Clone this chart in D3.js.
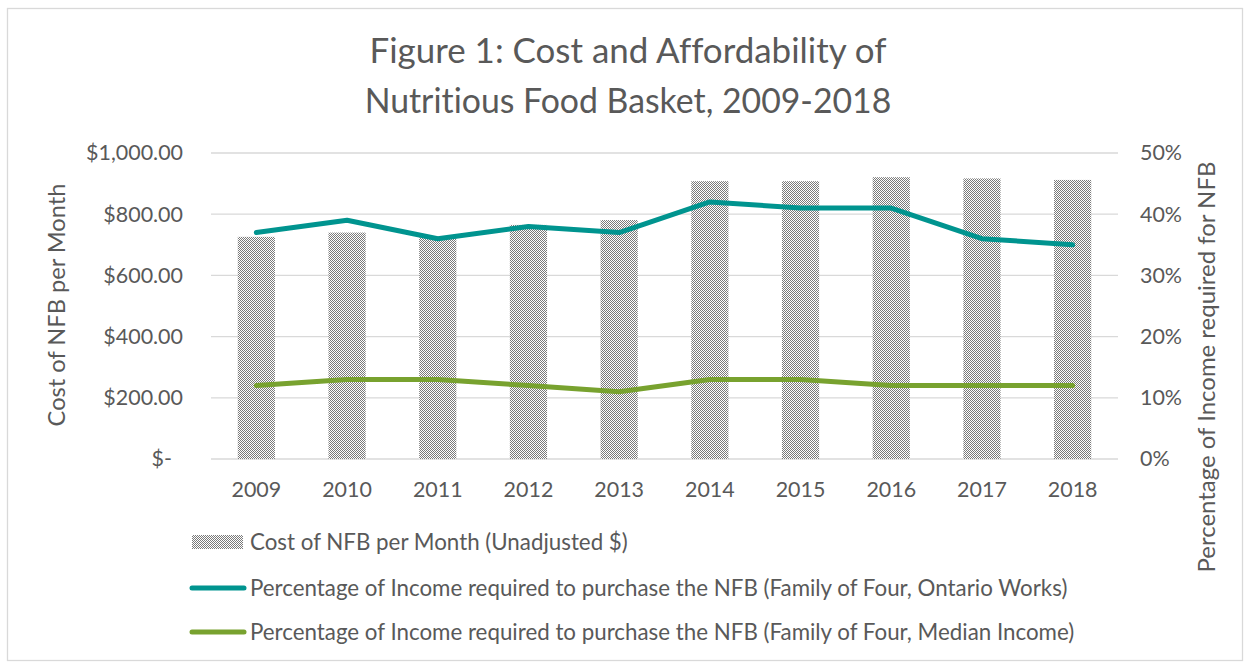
<!DOCTYPE html>
<html>
<head>
<meta charset="utf-8">
<script src="https://cdn.jsdelivr.net/npm/d3@7"></script>
<style>
  body { margin: 0; background: #fff; }
  svg { font-family: Lato, "Open Sans", sans-serif; font-variant-ligatures: none; }
</style>
</head>
<body>
<div id="chart"></div>
<script>
const years = ['2009', '2010', '2011', '2012', '2013', '2014', '2015', '2016', '2017', '2018'];
const costNFB = [726, 740, 724, 765, 781, 908, 908, 921, 917, 912];
const pctOntarioWorks = [37, 39, 36, 38, 37, 42, 41, 41, 36, 35];
const pctMedianIncome = [12, 13, 13, 12, 11, 13, 13, 12, 12, 12];
const costTicks = [0, 200, 400, 600, 800, 1000];
const pctTicks = [0, 10, 20, 30, 40, 50];
const titleLines = ['Figure 1: Cost and Affordability of', 'Nutritious Food Basket, 2009-2018'];
const legendLabels = [
  'Cost of NFB per Month (Unadjusted $)',
  'Percentage of Income required to purchase the NFB (Family of Four, Ontario Works)',
  'Percentage of Income required to purchase the NFB (Family of Four, Median Income)'
];

const width = 1250, height = 664;
const plot = { left: 211, right: 1118, top: 153, bottom: 459 };
const textColor = '#595959';
const teal = '#00948f', green = '#78a22f';

const svg = d3.select('#chart').append('svg')
  .attr('width', width)
  .attr('height', height);

// checkerboard fill for the bars
const defs = svg.append('defs');
const pat = defs.append('pattern')
  .attr('id', 'checker')
  .attr('width', 2).attr('height', 2)
  .attr('patternUnits', 'userSpaceOnUse');
pat.append('rect').attr('width', 2).attr('height', 2).attr('fill', '#fff');
pat.append('rect').attr('width', 1).attr('height', 1).attr('fill', '#7a7a7a');
pat.append('rect').attr('x', 1).attr('y', 1).attr('width', 1).attr('height', 1).attr('fill', '#7a7a7a');

// sets font size so the text is as wide as w
function fit(sel, w) {
  sel.style('font-size', '20px');
  const len = sel.node().getComputedTextLength();
  const size = 20 * w / len;
  sel.style('font-size', size + 'px');
  return size;
}

svg.append('rect')
  .attr('x', 7.5).attr('y', 8.5)
  .attr('width', 1235).attr('height', 652)
  .attr('fill', 'none')
  .attr('stroke', '#d9d9d9')
  .attr('stroke-width', 1.3);

const x = d3.scaleBand().domain(years).range([plot.left, plot.right]).paddingInner(0.59).paddingOuter(0.295);
const yCost = d3.scaleLinear().domain([0, 1000]).range([plot.bottom, plot.top]);
const yPct = d3.scaleLinear().domain([0, 50]).range([plot.bottom, plot.top]);

// gridlines
svg.append('g')
  .selectAll('line')
  .data(costTicks)
  .enter().append('line')
  .attr('x1', plot.left).attr('x2', plot.right)
  .attr('y1', d => yCost(d)).attr('y2', d => yCost(d))
  .attr('stroke', '#d9d9d9')
  .attr('stroke-width', 1.3);

// title
const title = svg.append('g').attr('fill', textColor);
titleLines.forEach((t, i) => {
  const el = title.append('text')
    .attr('x', 628)
    .attr('y', 63 + i * 50)
    .attr('text-anchor', 'middle')
    .text(t);
  fit(el, i === 0 ? 517 : 527);
});

// left axis
const probe = svg.append('text').text('$1,000.00');
const tickSize = fit(probe, 97);
probe.remove();

const leftAxis = svg.append('g')
  .attr('transform', `translate(${plot.left - 28},0)`)
  .call(d3.axisLeft(yCost).tickValues(costTicks).tickSize(0).tickPadding(0)
    .tickFormat(d => d === 0 ? '$-' : d3.format('$,.2f')(d)));
leftAxis.select('.domain').remove();
leftAxis.selectAll('text')
  .attr('fill', textColor)
  .style('font-family', 'Lato, "Open Sans", sans-serif')
  .style('font-size', tickSize + 'px')
  .attr('dx', d => d === 0 ? -11 : 0);

// right axis
const rightAxis = svg.append('g')
  .attr('transform', `translate(1140,0)`)
  .call(d3.axisRight(yPct).tickValues(pctTicks).tickSize(0).tickPadding(0)
    .tickFormat(d => d + '%'));
rightAxis.select('.domain').remove();
rightAxis.selectAll('text')
  .attr('fill', textColor)
  .style('font-family', 'Lato, "Open Sans", sans-serif')
  .style('font-size', tickSize + 'px');

// bottom axis
const bottomAxis = svg.append('g')
  .attr('transform', `translate(0,${plot.bottom})`)
  .call(d3.axisBottom(x).tickSize(0).tickPadding(0));
bottomAxis.select('.domain').remove();
bottomAxis.selectAll('text')
  .attr('fill', textColor)
  .attr('y', 30)
  .attr('dy', '0.35em')
  .style('font-family', 'Lato, "Open Sans", sans-serif')
  .style('font-size', tickSize + 'px');

// axis titles
const leftTitle = svg.append('text')
  .attr('transform', 'translate(57,305) rotate(-90)')
  .attr('text-anchor', 'middle')
  .attr('dy', '0.35em')
  .attr('fill', textColor)
  .text('Cost of NFB per Month');
fit(leftTitle, 243);

const rightTitle = svg.append('text')
  .attr('transform', 'translate(1207,367) rotate(-90)')
  .attr('text-anchor', 'middle')
  .attr('dy', '0.35em')
  .attr('fill', textColor)
  .text('Percentage of Income required for NFB');
fit(rightTitle, 411);

// bars
svg.append('g')
  .selectAll('rect')
  .data(years)
  .enter().append('rect')
  .attr('x', d => x(d))
  .attr('y', (d, i) => yCost(costNFB[i]))
  .attr('width', x.bandwidth())
  .attr('height', (d, i) => yCost(0) - yCost(costNFB[i]))
  .attr('fill', 'url(#checker)');

// lines
const line = d3.line()
  .x((d, i) => x(years[i]) + x.bandwidth() / 2)
  .y(d => yPct(d));

[[pctOntarioWorks, teal], [pctMedianIncome, green]].forEach(([vals, color]) => {
  svg.append('path')
    .datum(vals)
    .attr('d', line)
    .attr('fill', 'none')
    .attr('stroke', color)
    .attr('stroke-width', 5)
    .attr('stroke-linecap', 'round')
    .attr('stroke-linejoin', 'round');
});

// legend
const legend = svg.append('g');
const legendY = [542, 588, 632];
legend.append('rect')
  .attr('x', 192).attr('y', 535)
  .attr('width', 51).attr('height', 14)
  .attr('fill', 'url(#checker)');
[teal, green].forEach((c, i) => {
  legend.append('line')
    .attr('x1', 192).attr('x2', 244)
    .attr('y1', legendY[i + 1]).attr('y2', legendY[i + 1])
    .attr('stroke', c)
    .attr('stroke-width', 5)
    .attr('stroke-linecap', 'round');
});
const legendTexts = legendLabels.map((t, i) => legend.append('text')
  .attr('x', 250)
  .attr('y', legendY[i])
  .attr('dy', '0.35em')
  .attr('fill', textColor)
  .text(t));
const legendSize = fit(legendTexts[1], 818);
legendTexts.forEach(t => t.style('font-size', legendSize + 'px'));
</script>
</body>
</html>
